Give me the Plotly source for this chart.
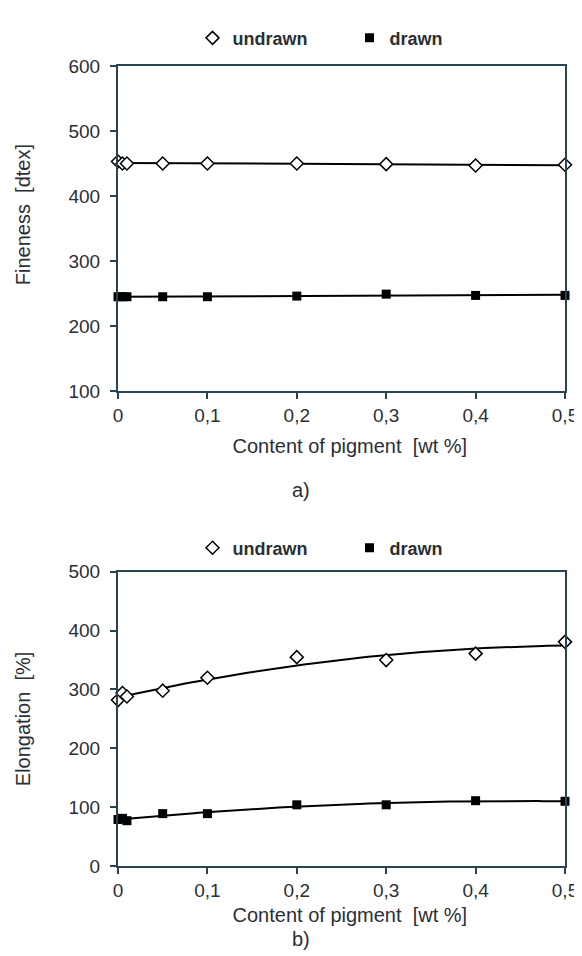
import numpy as np
import plotly.graph_objects as go

# ---- data ----
pigment = [0, 0.005, 0.01, 0.05, 0.1, 0.2, 0.3, 0.4, 0.5]
fineness_undrawn = [453, 450, 450, 450, 450, 450, 449, 447, 448]
fineness_drawn = [245, 245, 245, 245, 245, 246, 249, 247, 247]
elong_undrawn = [282, 294, 288, 298, 320, 355, 350, 361, 381]
elong_drawn = [79, 81, 77, 89, 89, 104, 104, 111, 110]
x_ticks = [0, 0.1, 0.2, 0.3, 0.4, 0.5]
x_tick_text = ["0", "0,1", "0,2", "0,3", "0,4", "0,5"]

FONT = "Liberation Sans, Arial, sans-serif"
AX = "#2a4452"
TXT = "#2b2f33"
NB = "\u00a0"
ZW = "\u200b"

fig = go.Figure()

xs = np.linspace(0, 0.5, 101)

def trend(y, deg=2):
    c = np.polyfit(pigment, y, deg)
    return np.polyval(c, xs)

panels = [
    ("x", "y", fineness_undrawn, fineness_drawn, "legend", 1),
    ("x2", "y2", elong_undrawn, elong_drawn, "legend2", 2),
]
for xa, ya, und, drw, lg, deg in panels:
    fig.add_trace(go.Scatter(x=xs, y=trend(und, deg), mode="lines",
                             line=dict(color="black", width=2),
                             showlegend=False, xaxis=xa, yaxis=ya, hoverinfo="skip"))
    fig.add_trace(go.Scatter(x=xs, y=trend(drw, deg), mode="lines",
                             line=dict(color="black", width=2),
                             showlegend=False, xaxis=xa, yaxis=ya, hoverinfo="skip"))
    fig.add_trace(go.Scatter(x=pigment, y=und, mode="markers", name="undrawn",
                             marker=dict(symbol="diamond", size=10, color="white",
                                         line=dict(color="black", width=1.5)),
                             cliponaxis=False,
                             xaxis=xa, yaxis=ya, legend=lg))
    fig.add_trace(go.Scatter(x=pigment, y=drw, mode="markers", name="drawn",
                             marker=dict(symbol="square", size=9, color="black",
                                         line=dict(color="black", width=0)),
                             cliponaxis=False,
                             xaxis=xa, yaxis=ya, legend=lg))

xcommon = dict(range=[0, 0.5], tickvals=x_ticks, ticktext=x_tick_text,
               showline=True, linecolor=AX, linewidth=2, mirror=True,
               ticks="outside", ticklen=6, tickcolor=AX, tickwidth=2,
               showgrid=False, zeroline=False,
               tickfont=dict(family=FONT, size=19, color=TXT),
               ticklabelstandoff=0)
XTITLE = ZW + NB * 3 + "Content of pigment" + NB + " [wt %]"
ycommon = dict(showline=True, linecolor=AX, linewidth=2, mirror=True,
               ticks="outside", ticklen=6, tickcolor=AX, tickwidth=2,
               showgrid=False, zeroline=False,
               tickfont=dict(family=FONT, size=19, color=TXT),
               ticklabelstandoff=6)

H, W = 956, 582
mt, mb, ml, mr = 53, 98, 110, 16
ph = H - mt - mb
pw = W - ml - mr

def py(pix):
    return (H - mb - pix) / ph

def px(pix):
    return (pix - ml) / pw

legend_style = dict(orientation="h", x=px(186), xanchor="left", yanchor="middle",
                    font=dict(family=FONT, size=18, color=TXT, weight="bold"),
                    entrywidth=112, itemwidth=30, bgcolor="rgba(0,0,0,0)")

fig.update_layout(
    width=W, height=H,
    margin=dict(l=ml, r=mr, t=mt, b=mb),
    paper_bgcolor="white", plot_bgcolor="white",
    xaxis=dict(xcommon, domain=[0, 1], anchor="y",
               title=dict(text=XTITLE, font=dict(family=FONT, size=20, color=TXT),
                          standoff=14)),
    yaxis=dict(ycommon, domain=[py(380), 1], anchor="x", range=[100, 600],
               tickvals=[100, 200, 300, 400, 500, 600],
               title=dict(text=ZW + NB * 5 + "Fineness" + NB + " [dtex]",
                          font=dict(family=FONT, size=20, color=TXT), standoff=32)),
    xaxis2=dict(xcommon, domain=[0, 1], anchor="y2",
                title=dict(text=XTITLE, font=dict(family=FONT, size=20, color=TXT),
                           standoff=8)),
    yaxis2=dict(ycommon, domain=[0, py(562)], anchor="x2", range=[0, 500],
                tickvals=[0, 100, 200, 300, 400, 500],
                title=dict(text="Elongation" + NB + " [%]",
                           font=dict(family=FONT, size=20, color=TXT), standoff=32)),
    legend=dict(legend_style, y=py(25)),
    legend2=dict(legend_style, y=py(538)),
    annotations=[
        dict(text="a)", x=px(297), y=py(480), xref="paper", yref="paper",
             showarrow=False, font=dict(family=FONT, size=20, color=TXT)),
        dict(text="b)", x=px(297), y=py(945), xref="paper", yref="paper",
             showarrow=False, font=dict(family=FONT, size=20, color=TXT)),
    ],
)

fig.write_html("out.html")
